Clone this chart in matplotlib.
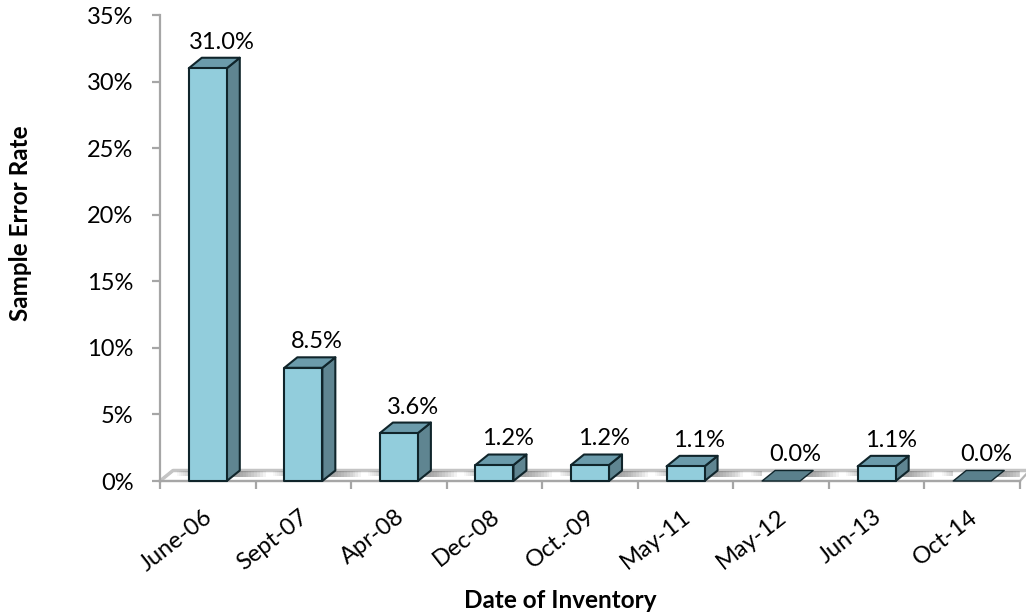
import matplotlib
matplotlib.use("Agg")
import matplotlib.pyplot as plt
from matplotlib.patches import Polygon
from matplotlib.ticker import MultipleLocator, FuncFormatter
from matplotlib.transforms import ScaledTranslation
import numpy as np

plt.rcParams['font.family'] = ['Lato', 'DejaVu Sans']

# values
dates = ["June-06", "Sept-07", "Apr-08", "Dec-08", "Oct.-09", "May-11", "May-12", "Jun-13", "Oct-14"]
error_rate = [31.0, 8.5, 3.6, 1.2, 1.2, 1.1, 0.0, 1.1, 0.0]

W, H = 1026, 613
fig = plt.figure(figsize=(W / 100, H / 100), dpi=100)
# axes box in pixels: x 160-1020, y 15-481
ax = fig.add_axes([160 / W, 1 - 481 / H, 860 / W, 466 / H])
ax.set_xlim(0, 9)
ax.set_ylim(0, 35)

# size of the fake 3D offset in data units
dx = 13 / (860 / 9)
dy = 10.5 / (466 / 35)
bar_w = 38 / (860 / 9)

front_col = "#92cddc"
side_col = "#5f8591"
top_col = "#6b9bab"
flat_col = "#5a808c"
edge_col = "#10252b"
axis_col = "#a6a6a6"

# floor
ax.add_patch(Polygon([(0, 0), (dx, dy), (9.1, dy), (9.0, 0)], closed=True, fc="white",
                     ec="#b5b5b5", lw=1.6, clip_on=False, zorder=1))
ax.plot([0, dx, 9.1], [0, dy, dy], color="#c4c4c4", lw=2.5, clip_on=False, zorder=1)

# shadows on the floor, fading out to the right of each bar
for i in range(len(dates)):
    x1 = i + 0.5 + bar_w / 2 + dx
    for k in range(10):
        ax.add_patch(Polygon([(x1 - 0.12, dy * 0.4), (x1 + 0.03 * k, dy * 0.4), (x1 + 0.03 * k, dy * 0.95), (x1 - 0.12, dy * 0.95)],
                             closed=True, fc="#666666", ec="none", alpha=0.08, zorder=1.5))
    x0 = i + 0.5 - bar_w / 2
    for k in range(7):
        ax.add_patch(Polygon([(x0, dy * 0.45), (x0 - 0.02 * k, dy * 0.45), (x0 - 0.02 * k, dy * 0.95), (x0, dy * 0.95)],
                             closed=True, fc="#666666", ec="none", alpha=0.05, zorder=1.5))

# bars
for i, v in enumerate(error_rate):
    x0 = i + 0.5 - bar_w / 2
    x1 = x0 + bar_w
    style = dict(closed=True, ec=edge_col, lw=1.5, joinstyle="round", clip_on=False, zorder=3)
    if v == 0:
        ax.add_patch(Polygon([(x0, 0), (x1, 0), (x1 + dx, dy), (x0 + dx, dy)], fc=flat_col, **{**style, "lw": 1.0}))
    else:
        ax.add_patch(Polygon([(x1, 0), (x1 + dx, dy), (x1 + dx, v + dy), (x1, v)], fc=side_col, **style))
        ax.add_patch(Polygon([(x0, v), (x1, v), (x1 + dx, v + dy), (x0 + dx, v + dy)], fc=top_col, **style))
        ax.add_patch(Polygon([(x0, 0), (x1, 0), (x1, v), (x0, v)], fc=front_col, **style))
    ax.text(i + 0.5 + 0.146, v + dy + 0.68, f"{v:.1f}%", ha="center", va="baseline",
            fontsize=17, color="black", clip_on=False, zorder=4)

for s in ["top", "right"]:
    ax.spines[s].set_visible(False)
for s in ["left", "bottom"]:
    ax.spines[s].set_color(axis_col)
    ax.spines[s].set_linewidth(1.6)
ax.spines["bottom"].set_zorder(2)

ax.yaxis.set_major_locator(MultipleLocator(5))
ax.yaxis.set_major_formatter(FuncFormatter(lambda v, p: f"{v:.0f}%"))
ax.tick_params(axis="y", length=6, width=1.6, color=axis_col, labelsize=17, pad=13)

ax.set_xticks(np.arange(0, 10))
ax.set_xticklabels([])
ax.tick_params(axis="x", length=5.5, width=1.6, color=axis_col)
ax.set_xticks(np.arange(len(dates)) + 0.5, minor=True)
labels = ax.set_xticklabels(dates, minor=True, rotation=38, ha="right", va="top", rotation_mode="anchor", fontsize=17)
ax.tick_params(axis="x", which="minor", length=0, pad=18)
for lab in labels:
    lab.set_transform(lab.get_transform() + ScaledTranslation(-4 / 100, 0, fig.dpi_scale_trans))

fig.text(21 / W, 1 - 223 / H, "Sample Error Rate", rotation=90, ha="center", va="center", fontsize=17.5, fontweight="bold")
fig.text(560 / W, 1 - 600 / H, "Date of Inventory", ha="center", va="center", fontsize=17.5, fontweight="bold")

fig.savefig("out.png", dpi=100)
